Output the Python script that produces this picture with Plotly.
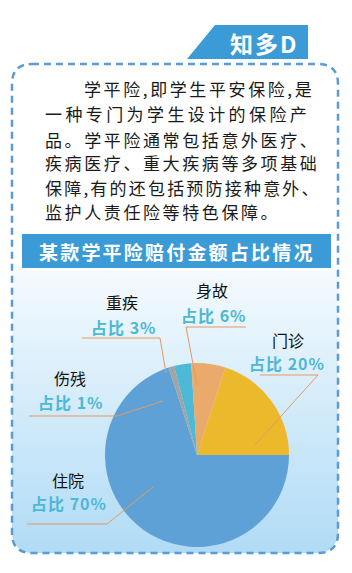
import base64
import plotly.graph_objects as go

# ---------------- data ----------------
categories = ["住院", "伤残", "重疾", "身故", "门诊"]
shares = [70, 1, 3, 6, 20]
slice_colors = ["#5EA1D6", "#A3A3A3", "#4EB9D5", "#E9AA6C", "#EDB92C"]

tag_text = "知多D"
chart_title = "某款学平险赔付金额占比情况"
body_lines = [
    "学平险,即学生平安保险,是",
    "一种专门为学生设计的保险产",
    "品。学平险通常包括意外医疗、",
    "疾病医疗、重大疾病等多项基础",
    "保障,有的还包括预防接种意外、",
    "监护人责任险等特色保障。",
]

# ---------------- layout helpers (pixel -> paper) ----------------
W, H = 352, 573
def px(x):
    return x / W
def py(y):
    return 1 - y / H

FONT = "Noto Sans CJK SC"

# label placement (pixels, top-left origin): name centre, pct centre, leader polyline
label_layout = {
    "重疾": dict(name=(122, 302), pct=(123, 327), line=[(82, 338), (160, 338), (166, 373)]),
    "身故": dict(name=(212, 290), pct=(213, 315), line=[(246, 327), (186, 327), (197, 385)]),
    "门诊": dict(name=(288, 340), pct=(287, 363), line=[(260, 375), (318, 375), (255, 445)]),
    "伤残": dict(name=(70, 378), pct=(70, 402), line=[(29, 416), (117, 416), (163, 401)]),
    "住院": dict(name=(68, 480), pct=(69, 503), line=[(27, 524), (107, 524), (153, 487)]),
}

fig = go.Figure()

# pie centre (197,455) radius 92 px
cx, cy, r = 197, 455, 92
fig.add_trace(go.Pie(
    labels=categories,
    values=shares,
    sort=False,
    direction="clockwise",
    rotation=90,
    marker=dict(colors=slice_colors, line=dict(width=0)),
    textinfo="none",
    hoverinfo="label+percent",
    showlegend=False,
    domain=dict(x=[px(cx - r), px(cx + r)], y=[py(cy + r), py(cy - r)]),
))

# ---------------- background gradient (svg image) ----------------
bx0, by0, bx1, by1, rad = 12, 64, 338, 553, 20
svg = f'''<svg xmlns="http://www.w3.org/2000/svg" width="{W}" height="{H}" viewBox="0 0 {W} {H}">
<defs><linearGradient id="g" x1="0" y1="0" x2="0" y2="1">
<stop offset="0" stop-color="#FFFFFF"/>
<stop offset="0.415" stop-color="#FFFFFF"/>
<stop offset="0.425" stop-color="#F4FAFE"/>
<stop offset="1" stop-color="#B0DBF5"/>
</linearGradient></defs>
<rect x="{bx0}" y="{by0}" width="{bx1-bx0}" height="{by1-by0}" rx="{rad}" ry="{rad}" fill="url(#g)"/>
</svg>'''
src = "data:image/svg+xml;base64," + base64.b64encode(svg.encode()).decode()
fig.add_layout_image(dict(source=src, xref="paper", yref="paper", x=0, y=1,
                          sizex=1, sizey=1, xanchor="left", yanchor="top",
                          sizing="stretch", layer="below"))

shapes = []

# dashed rounded border
def P(x, y):
    return f"{px(x):.5f},{py(y):.5f}"
border = (f"M {P(bx0+rad, by0)} L {P(bx1-rad, by0)} Q {P(bx1, by0)} {P(bx1, by0+rad)} "
          f"L {P(bx1, by1-rad)} Q {P(bx1, by1)} {P(bx1-rad, by1)} "
          f"L {P(bx0+rad, by1)} Q {P(bx0, by1)} {P(bx0, by1-rad)} "
          f"L {P(bx0, by0+rad)} Q {P(bx0, by0)} {P(bx0+rad, by0)} Z")
shapes.append(dict(type="path", xref="paper", yref="paper", path=border,
                   line=dict(color="#5B9BD5", width=2.5, dash="7px,5px"), layer="above"))

# tag parallelogram
tag = f"M {P(187, 59)} L {P(215, 25)} L {P(308, 25)} L {P(308, 59)} Z"
shapes.append(dict(type="path", xref="paper", yref="paper", path=tag,
                   fillcolor="#3A9BD6", line=dict(width=0), layer="above"))

# chart title bar
shapes.append(dict(type="rect", xref="paper", yref="paper",
                   x0=px(22), x1=px(331), y0=py(268), y1=py(234),
                   fillcolor="#3A9BD6", line=dict(width=0), layer="above"))

# leader lines
for cat in categories:
    pts = label_layout[cat]["line"]
    path = "M " + " L ".join(P(x, y) for x, y in pts)
    shapes.append(dict(type="path", xref="paper", yref="paper", path=path,
                       line=dict(color="#E39A62", width=1), layer="above"))

annotations = []
annotations.append(dict(text=f'<b><span style="letter-spacing:2px">{tag_text}</span></b>',
                        x=px(264), y=py(43), xref="paper", yref="paper",
                        showarrow=False, xanchor="center", yanchor="middle",
                        font=dict(family=FONT, size=23, color="white")))
annotations.append(dict(text=f'<b><span style="letter-spacing:2.2px">{chart_title}</span></b>',
                        x=px(177), y=py(251), xref="paper", yref="paper",
                        showarrow=False, xanchor="center", yanchor="middle",
                        font=dict(family=FONT, size=19, color="white")))

# body text
line_x = [82, 43, 43, 43, 43, 43]
line_y = [89, 113, 139, 163, 187, 211]
spacing = [2.6, 3.4, 2.6, 2.6, 2.2, 2.6]
for t, lx, ly, sp in zip(body_lines, line_x, line_y, spacing):
    annotations.append(dict(text=f'<span style="letter-spacing:{sp}px">{t}</span>',
                            x=px(lx), y=py(ly), xref="paper", yref="paper",
                            showarrow=False, xanchor="left", yanchor="middle",
                            font=dict(family=FONT, size=17, color="#1A1A1A")))

# pie labels
for cat, v in zip(categories, shares):
    L = label_layout[cat]
    annotations.append(dict(text=cat, x=px(L["name"][0]), y=py(L["name"][1]),
                            xref="paper", yref="paper", showarrow=False,
                            xanchor="center", yanchor="middle",
                            font=dict(family=FONT, size=16, color="#111111")))
    annotations.append(dict(text=f'<b><span style="letter-spacing:1px">占比 {v}%</span></b>',
                            x=px(L["pct"][0]), y=py(L["pct"][1]),
                            xref="paper", yref="paper", showarrow=False,
                            xanchor="center", yanchor="middle",
                            font=dict(family=FONT, size=16, color="#4DB7D7")))

fig.update_layout(
    width=W, height=H,
    margin=dict(l=0, r=0, t=0, b=0),
    paper_bgcolor="white", plot_bgcolor="white",
    shapes=shapes, annotations=annotations,
    showlegend=False,
)

fig.write_html("out.html")
